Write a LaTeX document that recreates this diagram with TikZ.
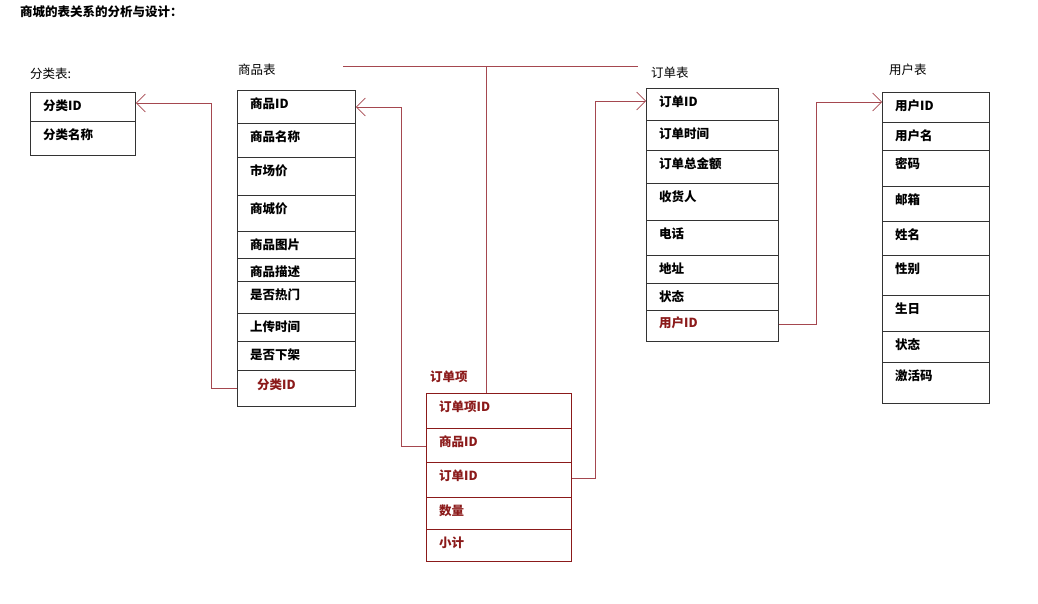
\documentclass[tikz,border=0pt]{standalone}
\usepackage{fontspec}
\newfontfamily\cjk{Noto Sans CJK SC}
\usetikzlibrary{arrows.meta}
\definecolor{lnk}{HTML}{A5474F}
\definecolor{dred}{HTML}{8B1A1A}
\tikzset{
  cell/.style={draw=black!80, line width=0.8pt, minimum height=#1, anchor=north west, inner sep=0pt},
  rcell/.style={draw=dred, line width=0.8pt, minimum height=#1, anchor=north west, inner sep=0pt},
  lbl/.style={anchor=west, font=\cjk\bfseries\fontsize{12.5}{14}\selectfont, inner sep=0pt},
  rlbl/.style={lbl, text=dred},
  ttl/.style={anchor=west, font=\cjk\fontsize{12.5}{14}\selectfont, inner sep=0pt},
  link/.style={draw=lnk, line width=0.7pt},
  lnkarrow/.style={link, -{Straight Barb[length=9pt,width=18pt]}}
}
\newcommand{\tabrows}[6]{% prefix, x, width, list of ytop/ybot/text, style, labelstyle
  \foreach \yt/\yb/\tx [count=\i] in {#4}{
    \pgfmathsetmacro{\hh}{\yb-\yt}
    \node[#5=\hh pt, minimum width=#3pt] (#1\i) at (#2,\yt) {};
    \node[#6] (#1t\i) at ({#2+13},{\yt+14}) {\tx};
  }}
\begin{document}
\begin{tikzpicture}[x=1pt,y=-1pt]
\useasboundingbox (0,0) rectangle (1038,604);
\node[ttl, font=\cjk\bfseries\fontsize{12.5}{14}\selectfont] (title) at (20,12) {商城的表关系的分析与设计：};
% titles
\node[ttl] (tfl) at (30,74) {分类表:};
\node[ttl] (tsp) at (238,70) {商品表};
\node[ttl] (tdd) at (651,73) {订单表};
\node[ttl] (tyh) at (889,70) {用户表};
\node[ttl, text=dred, font=\cjk\bfseries\fontsize{12.5}{14}\selectfont] (tdx) at (430,377) {订单项};
% 分类表
\tabrows{fl}{30}{105}{92/121/分类ID, 121/155/分类名称}{cell}{lbl}
% 商品表
\tabrows{sp}{237}{118}{90/123/商品ID, 123/157/商品名称, 157/195/市场价, 195/231/商城价, 231/258/商品图片, 258/281/商品描述, 281/313/是否热门, 313/341/上传时间, 341/370/是否下架}{cell}{lbl}
\node[cell=36pt, minimum width=118pt] (sp10) at (237,370) {};
\node[rlbl] (spt10) at (257,385) {分类ID};
% 订单项
\tabrows{dx}{426}{145}{393/428/订单项ID, 428/462/商品ID, 462/497/订单ID, 497/529/数量, 529/561/小计}{rcell}{rlbl}
% 订单表
\tabrows{dd}{646}{132}{88/120/订单ID, 120/150/订单时间, 150/183/订单总金额, 183/220/收货人, 220/255/电话, 255/283/地址, 283/310/状态}{cell}{lbl}
\node[cell=31pt, minimum width=132pt] (dd8) at (646,310) {};
\node[rlbl] (ddt8) at (659,323) {用户ID};
% 用户表
\tabrows{yh}{882}{107}{92/122/用户ID, 122/150/用户名, 150/186/密码, 186/221/邮箱, 221/255/姓名, 255/295/性别, 295/331/生日, 331/362/状态, 362/403/激活码}{cell}{lbl}
% connectors
\coordinate (c1) at (343,66);
\coordinate (c2) at (638,66);
\draw[link] (c1) -- (c2);
\draw[link] (dx1.north -| 486,0) -- (486,66);
\draw[lnkarrow] (sp10.west |- 0,388) -| (211,103) -- (fl1.east |- 0,103);
\draw[lnkarrow] (dx2.west |- 0,446) -| (401,107) -- (sp1.east |- 0,107);
\draw[lnkarrow] (dx3.east |- 0,478) -| (595,101) -- (dd1.west |- 0,101);
\draw[lnkarrow] (dd8.east |- 0,324) -| (816,102) -- (yh1.west |- 0,102);
\end{tikzpicture}
\end{document}
